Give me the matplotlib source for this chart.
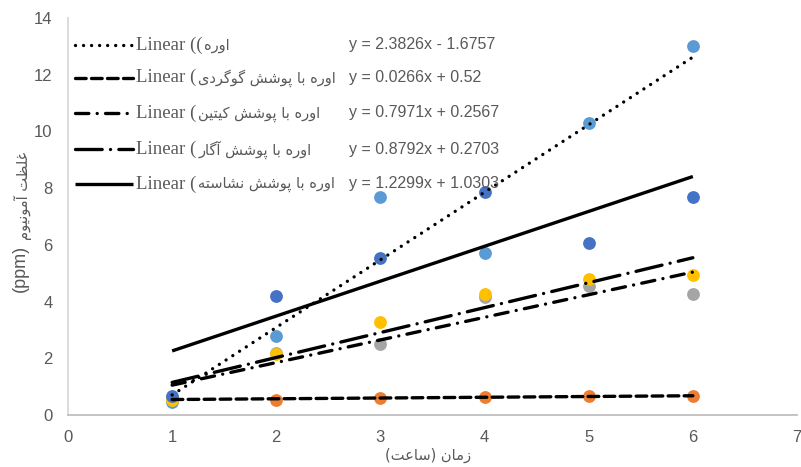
import matplotlib
matplotlib.use('Agg')
import matplotlib.pyplot as plt
import numpy as np

# --- data ---
hours = [1, 2, 3, 4, 5, 6]
urea = [0.45, 2.8, 7.7, 5.72, 10.3, 13.0]
urea_sulfur = [0.55, 0.52, 0.6, 0.63, 0.68, 0.68]
urea_chitin = [0.6, 2.2, 2.5, 4.15, 4.55, 4.28]
urea_agar = [0.53, 2.15, 3.28, 4.28, 4.78, 4.95]
urea_starch = [0.68, 4.18, 5.55, 7.85, 6.05, 7.7]

slopes = [2.3826, 0.0266, 0.7971, 0.8792, 1.2299]
intercepts = [-1.6757, 0.52, 0.2567, 0.2703, 1.0303]
equations = ['y = 2.3826x - 1.6757', 'y = 0.0266x + 0.52', 'y = 0.7971x + 0.2567',
             'y = 0.8792x + 0.2703', 'y = 1.2299x + 1.0303']
names = ['اوره', 'اوره با پوشش گوگردی', 'اوره با پوشش کیتین',
         'اوره با پوشش آگار', 'اوره با پوشش نشاسته']
xlabel_fa = ['زمان', 'ساعت']
ylabel_fa = 'غلظت آمونیوم'

series = [urea, urea_sulfur, urea_chitin, urea_agar, urea_starch]
colors = ['#5B9BD5', '#ED7D31', '#A5A5A5', '#FFC000', '#4472C4']
styles = [(0, (0.01, 2.4)), (0, (3.2, 1.6)), (0, (4, 2.5, 0.01, 2.5)),
          (0, (8, 2.5, 0.01, 2.5)), '-']

# persian letters -> (isolated, final, initial, medial) presentation forms
FORMS = {
    'ا': (0xFE8D, 0xFE8E, None, None), 'آ': (0xFE81, 0xFE82, None, None),
    'ب': (0xFE8F, 0xFE90, 0xFE91, 0xFE92), 'پ': (0xFB56, 0xFB57, 0xFB58, 0xFB59),
    'ت': (0xFE95, 0xFE96, 0xFE97, 0xFE98), 'د': (0xFEA9, 0xFEAA, None, None),
    'ر': (0xFEAD, 0xFEAE, None, None), 'ز': (0xFEAF, 0xFEB0, None, None),
    'س': (0xFEB1, 0xFEB2, 0xFEB3, 0xFEB4), 'ش': (0xFEB5, 0xFEB6, 0xFEB7, 0xFEB8),
    'ظ': (0xFEC5, 0xFEC6, 0xFEC7, 0xFEC8), 'ع': (0xFEC9, 0xFECA, 0xFECB, 0xFECC),
    'غ': (0xFECD, 0xFECE, 0xFECF, 0xFED0), 'ک': (0xFB8E, 0xFB8F, 0xFB90, 0xFB91),
    'گ': (0xFB92, 0xFB93, 0xFB94, 0xFB95), 'ل': (0xFEDD, 0xFEDE, 0xFEDF, 0xFEE0),
    'م': (0xFEE1, 0xFEE2, 0xFEE3, 0xFEE4), 'ن': (0xFEE5, 0xFEE6, 0xFEE7, 0xFEE8),
    'ه': (0xFEE9, 0xFEEA, 0xFEEB, 0xFEEC), 'و': (0xFEED, 0xFEEE, None, None),
    'ی': (0xFBFC, 0xFBFD, 0xFBFE, 0xFBFF),
}


def fa(text):
    # shape persian letters and return them in visual (left to right) order
    out = []
    for i, c in enumerate(text):
        if c not in FORMS:
            out.append(c)
            continue
        prev = text[i - 1] if i > 0 else ''
        nxt = text[i + 1] if i + 1 < len(text) else ''
        joins_prev = prev in FORMS and FORMS[prev][2] is not None
        joins_next = nxt in FORMS and FORMS[c][2] is not None
        iso, fin, ini, med = FORMS[c]
        if joins_prev and joins_next:
            cp = med
        elif joins_prev:
            cp = fin
        elif joins_next:
            cp = ini
        else:
            cp = iso
        out.append(chr(cp))
    return ''.join(out[::-1])


gray = '#595959'
fig = plt.figure(figsize=(8.01, 4.67), dpi=100)
ax = fig.add_axes([0.0849, 0.1113, 0.9101, 0.8502])

for ys, c in zip(series, colors):
    ax.scatter(hours, ys, s=85, color=c, zorder=2, linewidths=0)

x = np.array(hours)
for k, (m, b) in enumerate(zip(slopes, intercepts)):
    ax.plot(x, m * x + b, color='black', lw=2.4, ls=styles[k],
            dash_capstyle='round', solid_capstyle='butt', zorder=3)

ax.set_xlim(0, 7)
ax.set_ylim(0, 14)
ax.set_xticks(range(0, 8))
ax.set_yticks(range(0, 15, 2))
ax.tick_params(length=0, labelsize=12, labelcolor=gray, pad=11)
for lab in ax.get_xticklabels() + ax.get_yticklabels():
    lab.set_family('Liberation Sans')
for s in ['top', 'right']:
    ax.spines[s].set_visible(False)
ax.spines['left'].set_color('#D9D9D9')
ax.spines['bottom'].set_color('#BFBFBF')
ax.spines['left'].set_linewidth(1.3)
ax.spines['bottom'].set_linewidth(1.3)

# legend drawn by hand (handles + labels + equation labels)
rows = [0.932, 0.85, 0.761, 0.67, 0.582]
for k, yr in enumerate(rows):
    ax.plot([0.0096, 0.089], [yr, yr], transform=ax.transAxes, color='black',
            lw=2.4, ls=styles[k], dash_capstyle='round', solid_capstyle='butt',
            clip_on=False)
    head = 'Linear ((' if k == 0 else 'Linear ('
    t = ax.text(0.093, yr, head, transform=ax.transAxes, va='center', ha='left',
                family='Liberation Serif', fontsize=13.5, color=gray)
    ax.annotate(fa(names[k]), xy=(1, 0.45), xycoords=t, xytext=(1.5, 0),
                textcoords='offset points', va='center', ha='left',
                family='DejaVu Sans', fontsize=10.5, color=gray)
    ax.text(0.385, yr, equations[k], transform=ax.transAxes, va='center', ha='left',
            family='Liberation Sans', fontsize=11.5, color=gray)

fig.text(0.535, 0.008, '(' + fa(xlabel_fa[1]) + ') ' + fa(xlabel_fa[0]),
         ha='center', va='bottom', family='DejaVu Sans', fontsize=10.5, color=gray)
fig.text(0.025, 0.426, '(ppm)', rotation=90, ha='center', va='center',
         family='Liberation Sans', fontsize=13, color=gray)
fig.text(0.029, 0.486, fa(ylabel_fa), rotation=90, ha='center', va='bottom',
         family='DejaVu Sans', fontsize=10.5, color=gray)

fig.savefig('out.png', dpi=100)
